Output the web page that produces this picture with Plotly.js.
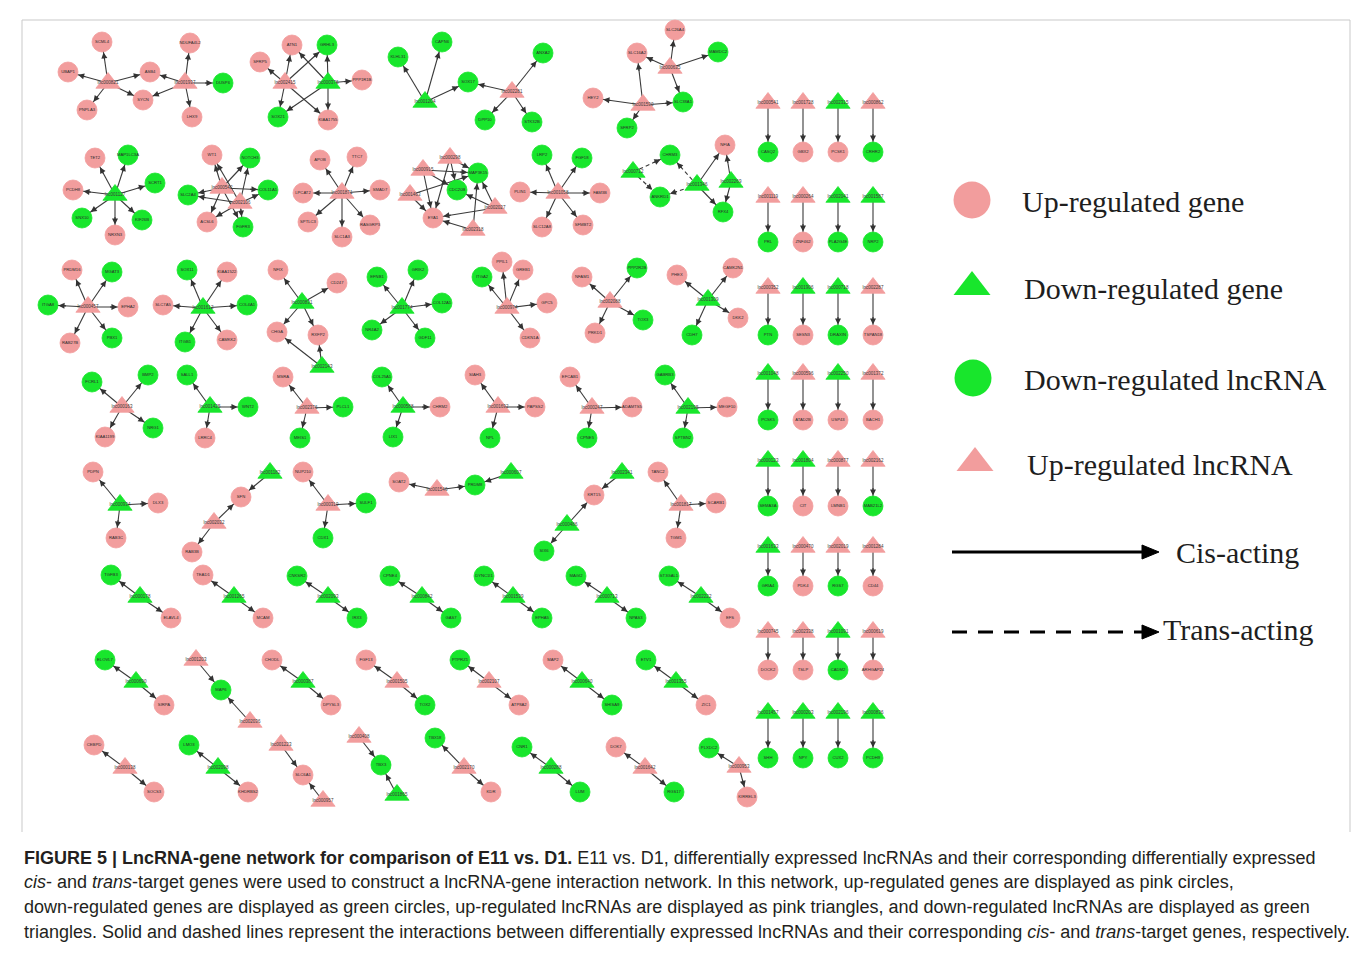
<!DOCTYPE html>
<html><head><meta charset="utf-8">
<script src="https://cdn.plot.ly/plotly-3.0.1.min.js"></script>
<style>html,body{margin:0;padding:0;background:#fff;} #chart{width:1355px;height:953px;}</style>
</head><body><div id="chart"></div>
<script>
// ---------------- DATA ----------------
// node kinds: UG = up-regulated gene (pink circle), DG = down-regulated gene (green circle)
//             UL = up-regulated lncRNA (pink triangle), DL = down-regulated lncRNA (green triangle)
const nodeKinds = ['UG', 'DG', 'UL', 'DL'];

// legend entries exactly as printed in the figure
const legendLabels = ['Up-regulated gene', 'Down-regulated gene', 'Down-regulated lncRNA', 'Up-regulated lncRNA'];
const legendKinds = ['UG', 'DL', 'DG', 'UL'];
const edgeTypeLabels = ['Cis-acting', 'Trans-acting'];

// network nodes: [label, kind, layoutX, layoutY]
const nodes = [
  // cluster A
  ['lnc000821','UL',108,83],['lnc001937','UL',185,83],['SCML4','UG',102,42],['UBAP1','UG',68,72],['PNPLA3','UG',87,110],
  ['ASB4','UG',150,72],['SYCN','UG',143,100],['NDUFA4L2','UG',190,43],['LHX9','UG',192,117],['DUSP6','DG',223,83],
  // cluster B
  ['lnc002415','UL',285,83],['lnc000376','DL',328,83],['SFRP5','UG',260,62],['ATN1','UG',292,45],['GRHL3','DG',327,45],
  ['PPP1R1B','UG',362,80],['SOX21','DG',278,117],['KIAA1755','UG',328,120],
  // cluster C
  ['lnc001204','DL',425,102],['KLHL31','DG',398,57],['CAPN6','DG',442,42],['SOX17','DG',468,82],
  ['lnc002281','UL',512,92],['ANXA2','DG',543,53],['DPP10','DG',485,120],['STK32B','DG',532,122],
  // cluster D
  ['lnc000635','UL',670,68],['lnc001590','UL',643,105],['SLC26A4','UG',675,30],['SLC16A2','UG',637,53],
  ['MAMDC2','DG',718,52],['SLC38A1','DG',683,102],['HEY2','UG',593,98],['SFRP2','DG',627,128],
  // cluster E
  ['lnc001127','DL',115,195],['TET2','UG',95,158],['MAP1LC3A','DG',128,155],['PCDH8','UG',73,190],['SCRT1','DG',155,183],
  ['SNX10','DG',82,218],['NRXN3','UG',115,235],['KIF26B','DG',142,220],
  // cluster F
  ['lnc000542','UL',222,188],['lnc002106','UL',240,203],['WT1','UG',212,155],['NOTCH3','DG',250,158],['SLC2A4','DG',188,195],
  ['COL11A1','DG',268,190],['ACSL6','UG',207,222],['FGFR3','DG',243,227],
  // cluster G
  ['lnc001871','UL',342,193],['APOB','UG',320,160],['TTC7','UG',357,157],['LPCAT2','UG',303,193],['SMAD7','UG',380,190],
  ['SPTLC3','UG',308,222],['SLC1A3','UG',342,237],['RASGRP3','UG',370,225],
  // cluster H
  ['lnc000298','UL',450,158],['lnc000915','UL',423,170],['lnc001463','UL',410,195],['lnc002027','UL',495,208],['lnc002318','UL',473,230],
  ['MAP3K15','DG',478,173],['CDC20B','DG',457,190],['EYA1','UG',433,218],
  // cluster I
  ['lnc001058','UL',558,193],['LRP2','DG',542,155],['FGF18','DG',582,158],['PLIN1','UG',520,192],['FAM3B','UG',600,193],
  ['SLC12A8','UG',542,227],['SFMBT2','UG',583,225],
  // cluster J
  ['lnc000712','DL',633,172],['lnc001346','DL',697,185],['lnc002269','DL',731,182],['CHRM3','DG',670,155],
  ['ANKRD1','DG',660,197],['NFIA','UG',725,145],['RFX4','DG',723,212],
  // cluster K
  ['lnc000457','UL',88,307],['PRDM16','UG',72,270],['MGAT3','DG',112,272],['ITGA8','DG',48,305],['EPHA2','UG',128,307],
  ['RAB27B','UG',70,343],['PBX1','DG',112,338],
  // cluster L
  ['lnc001612','DL',203,308],['SOX11','DG',187,270],['KIAA1522','UG',227,272],['SLC7A5','UG',163,305],['COL4A1','DG',247,305],
  ['ITGB1','DG',185,342],['CAMKK2','UG',227,340],
  // cluster M
  ['lnc000831','DL',302,303],['lnc002143','DL',322,367],['NFIX','UG',278,270],['CD247','UG',337,283],['CHGA','UG',277,332],['RXFP2','UG',318,335],
  // cluster N
  ['lnc001774','DL',402,308],['EFNB1','DG',377,277],['GRIK2','DG',418,270],['COL12A1','DG',442,303],['NR4A2','DG',372,330],['GDF11','DG',425,338],
  // cluster O
  ['lnc000974','UL',507,308],['PPIL1','UG',502,262],['GREB1','UG',523,270],['ITGA2','DG',482,277],['GPC5','UG',547,303],['CDKN1A','UG',530,338],
  // cluster P
  ['lnc002088','UL',610,302],['NFAM1','UG',582,277],['PPP2R2B','DG',637,268],['TOX3','DG',643,320],['PRKD1','UG',595,333],
  // cluster Q
  ['lnc001309','DL',708,300],['PHEX','UG',677,275],['CAMK2N1','UG',733,268],['DKK2','UG',738,318],['CDH7','DG',692,335],
  // row of small stars (y ~ 407)
  ['lnc000163','UL',122,407],['FCRL1','DG',92,382],['BMP2','DG',148,375],['NRG1','DG',153,428],['KIAA1199','UG',105,437],
  ['lnc001425','DL',210,407],['SALL1','DG',187,375],['WNT2','DG',248,407],['LRRC4','UG',205,438],
  ['lnc002376','UL',307,408],['MSRA','UG',283,377],['PLCL1','DG',343,407],['MEIS1','DG',300,438],
  ['lnc000588','DL',403,407],['COL25A1','DG',382,377],['CHRM2','UG',440,407],['LIX1','DG',393,437],
  ['lnc001692','UL',498,407],['SIAH3','UG',475,375],['PAPSS2','UG',535,407],['NPL','DG',490,438],
  ['lnc000247','UL',592,408],['EFCAB1','UG',570,377],['ADAMTS5','UG',632,407],['CPNE5','DG',587,438],
  ['lnc002195','DL',688,408],['GABRB3','DG',665,375],['MEGF10','UG',727,407],['SPTBN2','DG',683,438],
  // row y ~ 505
  ['lnc000934','DL',120,505],['PDPN','UG',93,472],['DLX3','UG',158,503],['RAB3C','UG',116,538],
  ['lnc001182','DL',270,473],['SFN','UG',241,497],['lnc002032','UL',214,523],['RAB3B','UG',192,552],
  ['lnc000319','UL',328,505],['NUP210','UG',303,472],['SULF1','DG',366,503],['CDX1','DG',323,538],
  ['lnc001546','UL',437,490],['SOAT2','UG',399,482],['PRDM8','DG',475,485],['lnc000607','DL',511,473],
  ['lnc002341','DL',622,473],['KRT15','UG',594,495],['lnc000486','DL',567,525],['SIX6','DG',544,551],
  ['lnc001817','UL',681,505],['TANC2','UG',658,472],['SCARB1','UG',716,503],['TGM1','UG',676,538],
  // row y ~ 597
  ['TGFB3','DG',111,575],['lnc000178','DL',140,597],['ELAVL4','UG',171,618],
  ['TEAD1','UG',203,575],['lnc001265','DL',234,597],['MCAM','UG',263,618],
  ['CNKSR2','DG',297,576],['lnc002093','DL',328,597],['IRX3','DG',357,618],
  ['CPNE4','DG',390,576],['lnc000842','DL',422,597],['GAS7','DG',451,618],
  ['DYNC1I1','DG',484,576],['lnc001539','DL',513,597],['EPHA5','DG',542,618],
  ['MAGI2','DG',576,576],['lnc000713','DL',607,597],['NPAS3','DG',636,618],
  ['ST3GAL1','DG',669,576],['lnc002222','DL',701,597],['EFS','UG',730,618],
  // row y ~ 682
  ['ELOVL7','DG',105,660],['lnc000690','DL',136,682],['SIRPA','UG',164,705],
  ['lnc001203','UL',196,660],['MAP6','DG',221,690],['lnc002036','UL',250,722],
  ['CHODL','UG',272,660],['lnc000387','DL',303,682],['DPYSL3','UG',331,705],
  ['FGF13','UG',366,660],['lnc001505','UL',397,682],['TOX2','DG',425,705],
  ['PTPRZ1','DG',460,660],['lnc002107','UL',489,682],['ATP8A2','UG',519,705],
  ['MAP2','UG',553,660],['lnc000640','DL',582,682],['SHISA9','DG',612,705],
  ['ETV1','DG',646,660],['lnc001355','DL',676,682],['ZIC1','UG',706,705],
  // row y ~ 768
  ['CEBPD','UG',94,745],['lnc000138','UL',125,768],['SOCS3','UG',154,792],
  ['LMO3','DG',189,745],['lnc002098','DL',218,768],['KHDRBS2','UG',248,792],
  ['lnc001223','UL',281,745],['SLC6A1','UG',303,775],['lnc000957','UL',323,801],
  ['lnc000408','UL',359,737],['TBX3','DG',381,765],['lnc001865','DL',397,795],
  ['TBX18','DG',435,738],['lnc002170','UL',464,768],['KDR','UG',491,792],
  ['CNR1','DG',522,747],['lnc000288','DL',551,768],['LUM','DG',580,792],
  ['DOK7','UG',616,747],['lnc001642','UL',645,768],['RGS17','DG',674,792],
  ['PLXDC2','DG',709,748],['lnc000953','UL',739,767],['KIRREL3','UG',747,797],
  // right-hand grid of lncRNA -> gene pairs
  ['lnc000541','UL',768,103],['lnc001728','UL',803,103],['lnc002315','DL',838,103],['lnc000862','UL',873,103],
  ['CASQ2','DG',768,152],['GBX2','UG',803,152],['PCSK1','UG',838,152],['CRHR2','DG',873,152],
  ['lnc001119','UL',768,197],['lnc000264','UL',803,197],['lnc002041','DL',838,197],['lnc001587','DL',873,197],
  ['PRL','DG',768,242],['ZNF462','UG',803,242],['PLA2G4E','DG',838,242],['NRP2','DG',873,242],
  ['lnc000352','UL',768,288],['lnc001906','DL',803,288],['lnc000718','DL',838,288],['lnc002287','UL',873,288],
  ['PTN','DG',768,335],['SESN3','UG',803,335],['DRAXIN','DG',838,335],['TSPAN18','UG',873,335],
  ['lnc001048','DL',768,374],['lnc000596','UL',803,374],['lnc002250','DL',838,374],['lnc001372','UL',873,374],
  ['PCSK5','DG',768,420],['ATAD2B','UG',803,420],['USP43','UG',838,420],['BACH1','UG',873,420],
  ['lnc000123','DL',768,461],['lnc001804','DL',803,461],['lnc000877','UL',838,461],['lnc002162','UL',873,461],
  ['SEMA3A','DG',768,506],['CIT','UG',803,506],['LMNB1','UG',838,506],['MAB21L2','DG',873,506],
  ['lnc001633','DL',768,547],['lnc000470','UL',803,547],['lnc002019','UL',838,547],['lnc001284','UL',873,547],
  ['GRIA4','DG',768,586],['PDK4','UG',803,586],['RGS7','DG',838,586],['CD44','UG',873,586],
  ['lnc000745','UL',768,632],['lnc002338','UL',803,632],['lnc001091','DL',838,632],['lnc000619','UL',873,632],
  ['DOCK2','UG',768,670],['TSLP','UG',803,670],['CADM2','DG',838,670],['ARHGAP24','UG',873,670],
  ['lnc001457','DL',768,713],['lnc000203','DL',803,713],['lnc002196','DL',838,713],['lnc000836','DL',873,713],
  ['SHH','DG',768,758],['NPY','DG',803,758],['CUX2','DG',838,758],['PCDH9','DG',873,758]
];

// cis-acting interactions: [lncRNA, [target genes]]
const cisEdges = [
  ['lnc000821',['SCML4','UBAP1','PNPLA3','ASB4','SYCN']],
  ['lnc001937',['NDUFA4L2','ASB4','SYCN','DUSP6','LHX9']],
  ['lnc002415',['SFRP5','ATN1','GRHL3','SOX21','KIAA1755']],
  ['lnc000376',['ATN1','GRHL3','PPP1R1B','SOX21','KIAA1755']],
  ['lnc001204',['KLHL31','CAPN6','SOX17']],
  ['lnc002281',['SOX17','ANXA2','DPP10','STK32B']],
  ['lnc000635',['SLC26A4','SLC16A2','MAMDC2','SLC38A1']],
  ['lnc001590',['SLC16A2','HEY2','SLC38A1','SFRP2']],
  ['lnc001127',['TET2','MAP1LC3A','PCDH8','SCRT1','SNX10','NRXN3','KIF26B']],
  ['lnc000542',['WT1','NOTCH3','SLC2A4','COL11A1','ACSL6','FGFR3']],
  ['lnc002106',['WT1','NOTCH3','SLC2A4','COL11A1','ACSL6','FGFR3']],
  ['lnc001871',['APOB','TTC7','LPCAT2','SMAD7','SPTLC3','SLC1A3','RASGRP3']],
  ['lnc000298',['MAP3K15','CDC20B','EYA1']],
  ['lnc000915',['MAP3K15','CDC20B','EYA1']],
  ['lnc001463',['MAP3K15','EYA1']],
  ['lnc002027',['MAP3K15','CDC20B','EYA1']],
  ['lnc002318',['MAP3K15','EYA1']],
  ['lnc001058',['LRP2','FGF18','PLIN1','FAM3B','SLC12A8','SFMBT2']],
  ['lnc001346',['NFIA','RFX4']],
  ['lnc002269',['NFIA','RFX4']],
  ['lnc000457',['PRDM16','MGAT3','ITGA8','EPHA2','RAB27B','PBX1']],
  ['lnc001612',['SOX11','KIAA1522','SLC7A5','COL4A1','ITGB1','CAMKK2']],
  ['lnc000831',['NFIX','CD247','CHGA','RXFP2']],
  ['lnc002143',['CHGA','RXFP2']],
  ['lnc001774',['EFNB1','GRIK2','COL12A1','NR4A2','GDF11']],
  ['lnc000974',['PPIL1','GREB1','ITGA2','GPC5','CDKN1A']],
  ['lnc002088',['NFAM1','PPP2R2B','TOX3','PRKD1']],
  ['lnc001309',['PHEX','CAMK2N1','DKK2','CDH7']],
  ['lnc000163',['FCRL1','BMP2','NRG1','KIAA1199']],
  ['lnc001425',['SALL1','WNT2','LRRC4']],
  ['lnc002376',['MSRA','PLCL1','MEIS1']],
  ['lnc000588',['COL25A1','CHRM2','LIX1']],
  ['lnc001692',['SIAH3','PAPSS2','NPL']],
  ['lnc000247',['EFCAB1','ADAMTS5','CPNE5']],
  ['lnc002195',['GABRB3','MEGF10','SPTBN2']],
  ['lnc000934',['PDPN','DLX3','RAB3C']],
  ['lnc001182',['SFN']],['lnc002032',['SFN','RAB3B']],
  ['lnc000319',['NUP210','SULF1','CDX1']],
  ['lnc001546',['SOAT2','PRDM8']],['lnc000607',['PRDM8']],
  ['lnc002341',['KRT15']],['lnc000486',['KRT15','SIX6']],
  ['lnc001817',['TANC2','SCARB1','TGM1']],
  ['lnc000178',['TGFB3','ELAVL4']],['lnc001265',['TEAD1','MCAM']],['lnc002093',['CNKSR2','IRX3']],
  ['lnc000842',['CPNE4','GAS7']],['lnc001539',['DYNC1I1','EPHA5']],['lnc000713',['MAGI2','NPAS3']],
  ['lnc002222',['ST3GAL1','EFS']],
  ['lnc000690',['ELOVL7','SIRPA']],['lnc001203',['MAP6']],['lnc002036',['MAP6']],
  ['lnc000387',['CHODL','DPYSL3']],['lnc001505',['FGF13','TOX2']],['lnc002107',['PTPRZ1','ATP8A2']],
  ['lnc000640',['MAP2','SHISA9']],['lnc001355',['ETV1','ZIC1']],
  ['lnc000138',['CEBPD','SOCS3']],['lnc002098',['LMO3','KHDRBS2']],['lnc001223',['SLC6A1']],['lnc000957',['SLC6A1']],
  ['lnc000408',['TBX3']],['lnc001865',['TBX3']],['lnc002170',['TBX18','KDR']],['lnc000288',['CNR1','LUM']],
  ['lnc001642',['DOK7','RGS17']],['lnc000953',['PLXDC2','KIRREL3']],
  ['lnc000541',['CASQ2']],['lnc001728',['GBX2']],['lnc002315',['PCSK1']],['lnc000862',['CRHR2']],
  ['lnc001119',['PRL']],['lnc000264',['ZNF462']],['lnc002041',['PLA2G4E']],['lnc001587',['NRP2']],
  ['lnc000352',['PTN']],['lnc001906',['SESN3']],['lnc000718',['DRAXIN']],['lnc002287',['TSPAN18']],
  ['lnc001048',['PCSK5']],['lnc000596',['ATAD2B']],['lnc002250',['USP43']],['lnc001372',['BACH1']],
  ['lnc000123',['SEMA3A']],['lnc001804',['CIT']],['lnc000877',['LMNB1']],['lnc002162',['MAB21L2']],
  ['lnc001633',['GRIA4']],['lnc000470',['PDK4']],['lnc002019',['RGS7']],['lnc001284',['CD44']],
  ['lnc000745',['DOCK2']],['lnc002338',['TSLP']],['lnc001091',['CADM2']],['lnc000619',['ARHGAP24']],
  ['lnc001457',['SHH']],['lnc000203',['NPY']],['lnc002196',['CUX2']],['lnc000836',['PCDH9']]
];

// trans-acting interactions
const transEdges = [
  ['lnc000712',['CHRM3','ANKRD1']],
  ['lnc001346',['CHRM3','ANKRD1']]
];

const captionLines = [
  '<b>FIGURE 5 | LncRNA-gene network for comparison of E11 vs. D1.</b> E11 vs. D1, differentially expressed lncRNAs and their corresponding differentially expressed',
  '<i>cis</i>- and <i>trans</i>-target genes were used to construct a lncRNA-gene interaction network. In this network, up-regulated genes are displayed as pink circles,',
  'down-regulated genes are displayed as green circles, up-regulated lncRNAs are displayed as pink triangles, and down-regulated lncRNAs are displayed as green',
  'triangles. Solid and dashed lines represent the interactions between differentially expressed lncRNAs and their corresponding <i>cis</i>- and <i>trans</i>-target genes, respectively.'
];

// ---------------- STYLE ----------------
const PINK = '#f29d9d', GREEN = '#18e62c';
const kindStyle = {
  UG: {symbol: 'circle', color: PINK, size: 20},
  DG: {symbol: 'circle', color: GREEN, size: 20},
  UL: {symbol: 'triangle-up', color: PINK, size: 21},
  DL: {symbol: 'triangle-up', color: GREEN, size: 21}
};

const byLabel = {};
nodes.forEach(n => { byLabel[n[0]] = {x: n[2], y: n[3], kind: n[1]}; });

const traces = [];
const annotations = [];

function addEdges(groups, dashed) {
  const xs = [], ys = [];
  groups.forEach(([src, targets]) => {
    const s = byLabel[src];
    targets.forEach(t => {
      const d = byLabel[t];
      xs.push(s.x, d.x, null); ys.push(s.y, d.y, null);
      const dx = s.x - d.x, dy = s.y - d.y, L = Math.hypot(dx, dy);
      const r = 10.5;
      const back = r + 9;
      annotations.push({
        x: d.x, y: d.y, xref: 'x', yref: 'y',
        ax: d.x + dx / L * back, ay: d.y + dy / L * back, axref: 'x', ayref: 'y',
        text: '', showarrow: true, arrowhead: 2, arrowsize: 1.1, arrowwidth: 1.1,
        arrowcolor: '#333', standoff: r
      });
    });
  });
  traces.push({
    type: 'scatter', mode: 'lines', x: xs, y: ys, hoverinfo: 'skip', showlegend: false,
    line: {color: '#3a3a3a', width: 1.1, dash: dashed ? '4px,3px' : 'solid'}
  });
}
addEdges(cisEdges, false);
addEdges(transEdges, true);

nodeKinds.forEach(k => {
  const sel = nodes.filter(n => n[1] === k);
  const st = kindStyle[k];
  const isTri = k === 'UL' || k === 'DL';
  traces.push({
    type: 'scatter', mode: 'markers+text',
    x: sel.map(n => n[2]), y: sel.map(n => n[3]), text: sel.map(n => n[0]),
    textposition: 'middle center',
    textfont: {family: 'Liberation Sans, Arial, sans-serif', size: isTri ? 4.5 : 4.2, color: isTri ? '#3c3c3c' : '#2a2a2a'},
    marker: {symbol: st.symbol, size: st.size, color: st.color, line: {color: st.color, width: 0.8}, opacity: 1},
    hoverinfo: 'text', showlegend: false, cliponaxis: false
  });
});

// legend (drawn on the canvas, like the figure)
const legX = [972, 972, 973, 975], legY = [200, 287, 378, 463];
legendKinds.forEach((k, i) => {
  const st = kindStyle[k];
  traces.push({
    type: 'scatter', mode: 'markers', x: [legX[i]], y: [legY[i]], hoverinfo: 'skip', showlegend: false,
    marker: {symbol: st.symbol, color: st.color, size: st.symbol === 'circle' ? 37 : 32, line: {width: 0}, opacity: 1}
  });
});
const legTextX = [1020, 1022, 1022, 1025];
legendLabels.forEach((t, i) => annotations.push({
  x: legTextX[i], y: legY[i] + 1, xref: 'x', yref: 'y', xanchor: 'left', yanchor: 'middle',
  text: t, showarrow: false, font: {family: 'Liberation Serif, Times New Roman, serif', size: 30, color: '#1e1e1e'}
}));
annotations.push({x: 1174, y: 552, xref: 'x', yref: 'y', xanchor: 'left', yanchor: 'middle', text: edgeTypeLabels[0],
  showarrow: false, font: {family: 'Liberation Serif, Times New Roman, serif', size: 30, color: '#1e1e1e'}});
annotations.push({x: 1161, y: 629, xref: 'x', yref: 'y', xanchor: 'left', yanchor: 'middle', text: edgeTypeLabels[1],
  showarrow: false, font: {family: 'Liberation Serif, Times New Roman, serif', size: 30, color: '#1e1e1e'}});

// caption
const capY = [858, 882, 907, 932];
captionLines.forEach((t, i) => annotations.push({
  x: 22, y: capY[i], xref: 'x', yref: 'y', xanchor: 'left', yanchor: 'middle', text: t, showarrow: false,
  font: {family: 'Liberation Sans, Arial, Helvetica, sans-serif', size: 18, color: '#231f20'}
}));

const shapes = [
  {type: 'path', path: 'M22,832 L22,20 L1350,20 L1350,832', line: {color: '#c9c9c9', width: 1}, xref: 'x', yref: 'y', layer: 'below'},
  {type: 'line', x0: 952, y0: 552, x1: 1144, y1: 552, line: {color: '#000', width: 3}, xref: 'x', yref: 'y'},
  {type: 'path', path: 'M1142,545 L1159,552 L1142,559 Z', fillcolor: '#000', line: {color: '#000', width: 1}, xref: 'x', yref: 'y'},
  {type: 'line', x0: 952, y0: 632, x1: 1144, y1: 632, line: {color: '#000', width: 3, dash: '15px,11px'}, xref: 'x', yref: 'y'},
  {type: 'path', path: 'M1142,625 L1159,632 L1142,639 Z', fillcolor: '#000', line: {color: '#000', width: 1}, xref: 'x', yref: 'y'}
];

const layout = {
  width: 1355, height: 953, margin: {l: 0, r: 0, t: 0, b: 0},
  paper_bgcolor: '#fff', plot_bgcolor: '#fff',
  xaxis: {range: [0, 1355], visible: false, fixedrange: true},
  yaxis: {range: [953, 0], visible: false, fixedrange: true},
  showlegend: false, annotations, shapes
};

Plotly.newPlot('chart', traces, layout, {displayModeBar: false, staticPlot: true});
</script>
</body></html>
